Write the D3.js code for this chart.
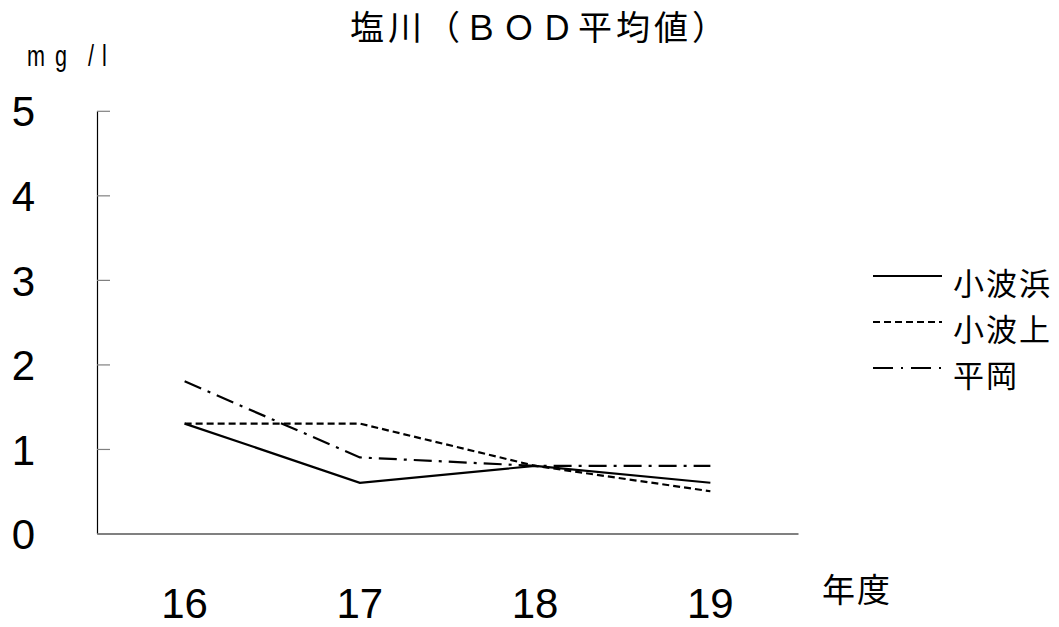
<!DOCTYPE html>
<html>
<head>
<meta charset="utf-8">
<script src="https://cdn.jsdelivr.net/npm/d3@7"></script>
<style>
  html, body { margin: 0; padding: 0; background: #fff; }
  svg { display: block; }
  .cjk { font-family: "Noto Sans CJK JP", "Noto Sans", sans-serif; }
  .num { font-family: "Liberation Sans", Arial, sans-serif; }
</style>
</head>
<body>
<svg id="chart" width="1059" height="627"></svg>
<script>
// BOD annual means (mg/l) at three stations on the Shiokawa river
const years = ["16", "17", "18", "19"];
const kohamaHama = [1.3, 0.6, 0.8, 0.6];   // 小波浜
const kohamaKami = [1.3, 1.3, 0.8, 0.5];   // 小波上
const hiraoka    = [1.8, 0.9, 0.8, 0.8];   // 平岡
const yTicks = [0, 1, 2, 3, 4, 5];

const series = [
  { name: "小波浜", values: kohamaHama, dash: null },
  { name: "小波上", values: kohamaKami, dash: "7,4" },
  { name: "平岡",   values: hiraoka,    dash: "18,7,3,7" }
];

const svg = d3.select("#chart");

const plot = { left: 97, right: 798, top: 110.8, bottom: 533.5 };

const x = d3.scaleBand().domain(years).range([plot.left, plot.right]);
const xc = d => x(d) + x.bandwidth() / 2;
const y = d3.scaleLinear().domain([0, 5]).range([plot.bottom, plot.top]);

// Title
svg.append("text")
  .attr("class", "cjk")
  .attr("x", 540).attr("y", 40)
  .attr("text-anchor", "middle")
  .style("font-size", "34px")
  .style("letter-spacing", "4px")
  .text("塩川（ＢＯＤ平均値）");

// Unit label: tall, narrow, widely spaced glyphs
const unitChars = [
  { ch: "m", x: 27 },
  { ch: "g", x: 55 },
  { ch: "/", x: 88 },
  { ch: "l", x: 102 }
];
svg.append("g").selectAll("g")
  .data(unitChars)
  .join("g")
  .attr("transform", d => `translate(${d.x},66) scale(0.72,1)`)
  .append("text")
  .attr("class", "num")
  .style("font-size", "30px")
  .text(d => d.ch);

// Y axis: ticks pointing into the plot, labels far left
const yAxis = svg.append("g")
  .attr("transform", `translate(${plot.left},0)`)
  .call(d3.axisLeft(y).tickValues(yTicks).tickFormat(d3.format("d"))
    .tickSizeInner(-13).tickSizeOuter(0).tickPadding(0));
yAxis.select(".domain").attr("stroke", "#000").attr("stroke-width", 1.2);
yAxis.selectAll(".tick line").attr("stroke", "#808080").attr("stroke-width", 1.2);
yAxis.selectAll(".tick text")
  .attr("class", "num")
  .attr("x", -73.5)
  .attr("text-anchor", "middle")
  .attr("dy", "0.36em")
  .style("font-size", "42px")
  .attr("fill", "#000");

// X axis: grey baseline, no tick marks
const xAxis = svg.append("g")
  .attr("transform", `translate(0,${plot.bottom})`)
  .call(d3.axisBottom(x).tickSize(0).tickSizeOuter(0).tickPadding(0));
xAxis.select(".domain").attr("stroke", "#808080").attr("stroke-width", 2);
xAxis.selectAll(".tick text")
  .attr("class", "num")
  .attr("y", 84)
  .attr("dy", 0)
  .style("font-size", "42px")
  .attr("fill", "#000");

// X axis title
svg.append("text")
  .attr("class", "cjk")
  .attr("x", 857).attr("y", 602)
  .attr("text-anchor", "middle")
  .style("font-size", "33px")
  .style("letter-spacing", "2px")
  .text("年度");

// Lines
const line = d3.line()
  .x((v, i) => xc(years[i]))
  .y(v => y(v));

svg.append("g").selectAll("path")
  .data(series)
  .join("path")
  .attr("d", d => line(d.values))
  .attr("fill", "none")
  .attr("stroke", "#000")
  .attr("stroke-width", 2.2)
  .attr("stroke-dasharray", d => d.dash);

// Legend
const legend = svg.append("g").selectAll("g")
  .data(series)
  .join("g")
  .attr("transform", (d, i) => `translate(873,${276 + i * 46})`);

legend.append("line")
  .attr("x1", 0).attr("x2", 69)
  .attr("y1", 0).attr("y2", 0)
  .attr("stroke", "#000")
  .attr("stroke-width", 2)
  .attr("stroke-dasharray", (d, i) => i === 2 ? "20,8,2,8" : d.dash);

legend.append("text")
  .attr("class", "cjk")
  .attr("x", 80).attr("y", 19)
  .style("font-size", "31px")
  .style("letter-spacing", "2px")
  .text(d => d.name);
</script>
</body>
</html>
